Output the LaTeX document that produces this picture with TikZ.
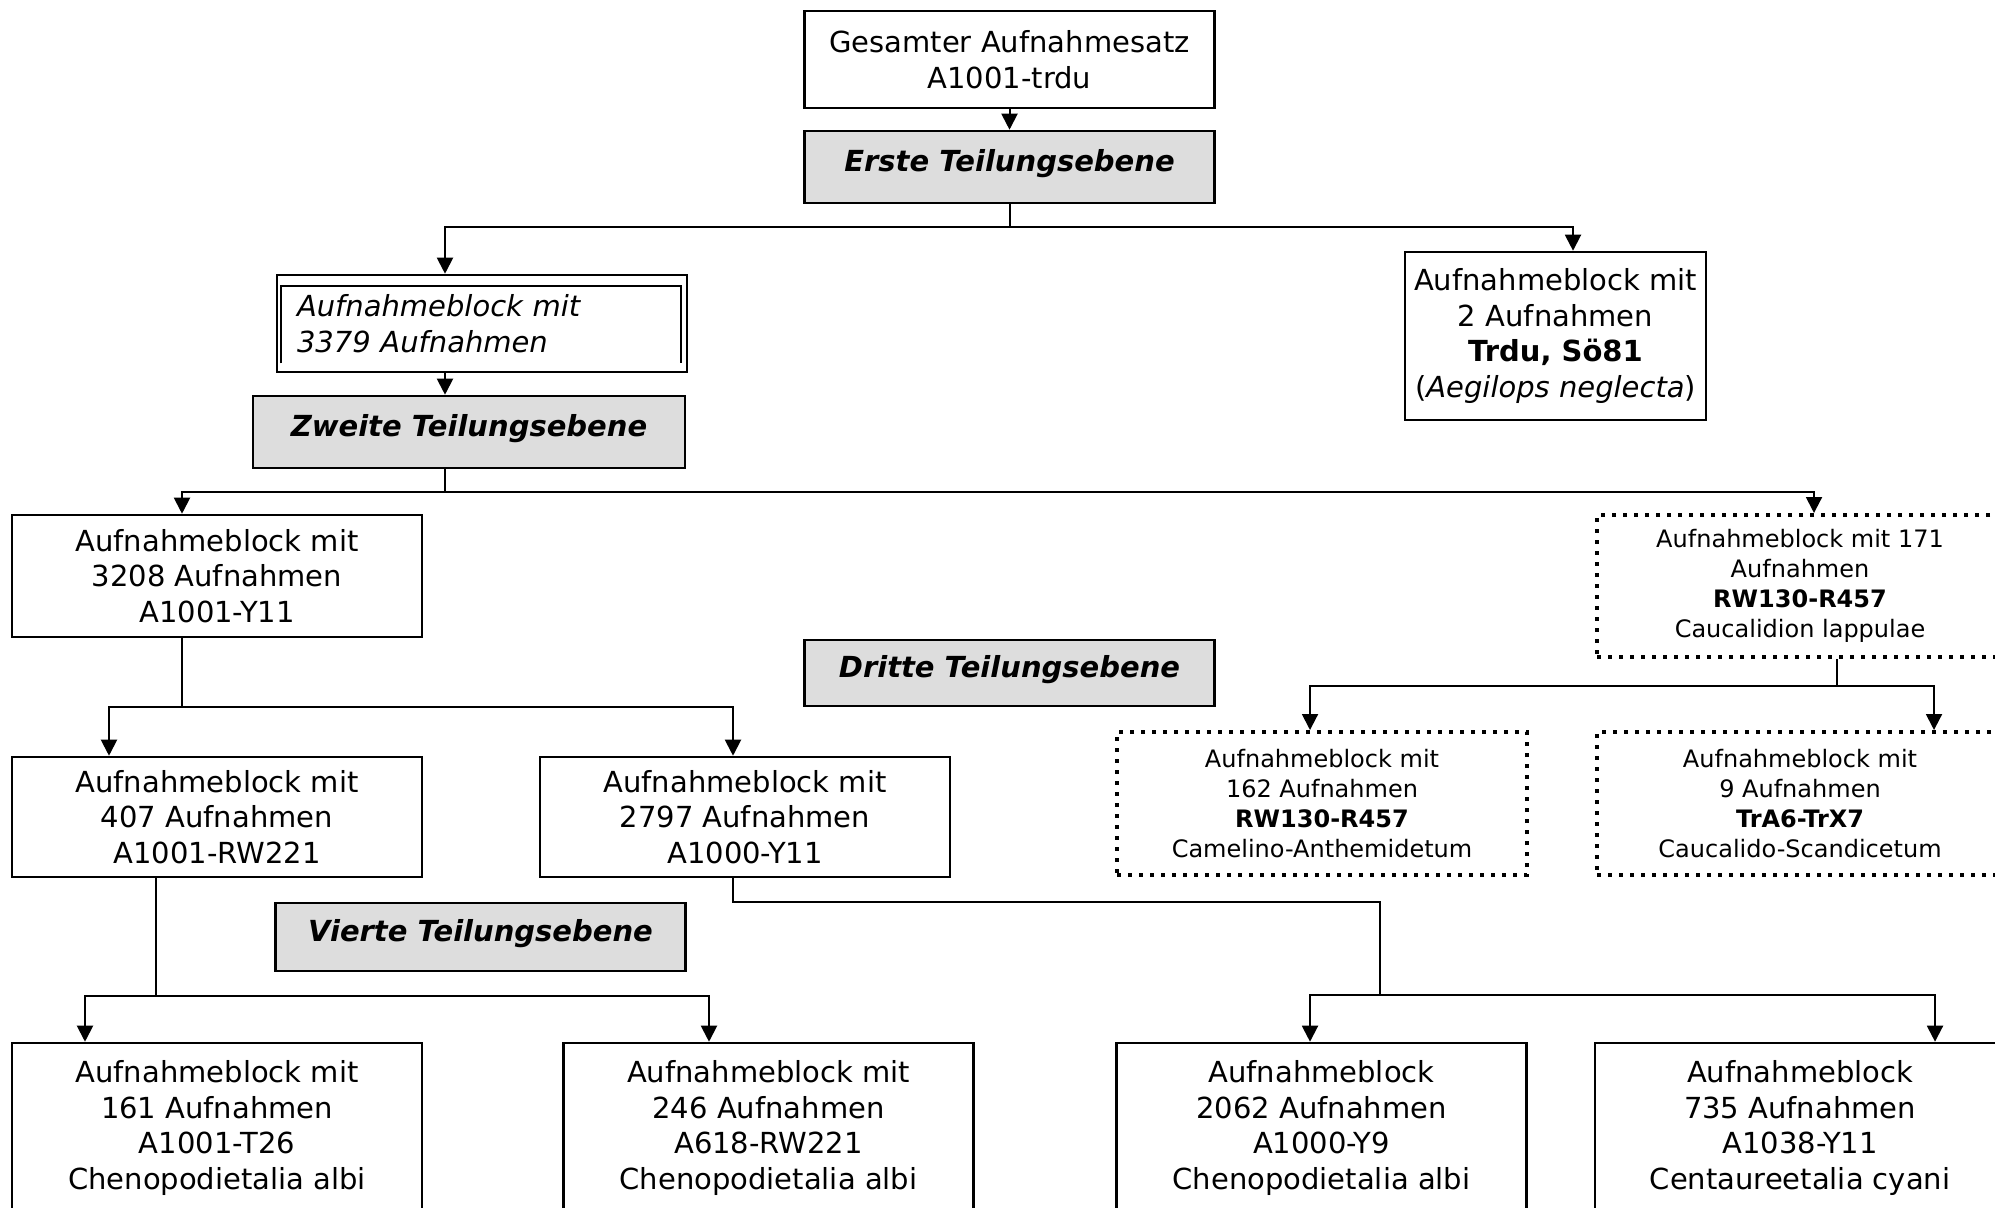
\documentclass[tikz,border=0pt]{standalone}
\usepackage{fontspec}
\setmainfont{DejaVu Sans}
\usetikzlibrary{arrows.meta}
\definecolor{ebenegrau}{RGB}{221,221,221}

\begin{document}
\begin{tikzpicture}[x=0.5pt,y=-0.5pt,line width=1pt,
	block/.style={draw, line width=1.3pt, align=center, inner sep=0pt, minimum width=205pt, font=\fontsize{14.5}{17.8}\selectfont},
	ebene/.style={block, fill=ebenegrau, text depth=6.5pt, font=\fontsize{14.5}{17.8}\selectfont\bfseries\itshape},
	punkt/.style={block, line width=2pt, dash pattern=on 2pt off 3.5pt, font=\fontsize{12}{15}\selectfont},
	pfeil/.style={-{Triangle[width=8pt,length=8pt]}, line width=1pt}]
	\useasboundingbox (0,0) rectangle (1995,1207);
	\clip (0,0) rectangle (1995,1207);

	% Teilungsebenen
	\draw (1009.5,59.5) node [block, minimum height=48.5pt] (gesamt) {Gesamter Aufnahmesatz\\A1001-trdu};
	\draw (1009.5,167) node [ebene, minimum height=36pt] (erste) {Erste Teilungsebene};
	\draw (469,432) node [ebene, minimum width=216pt, minimum height=36pt] (zweite) {Zweite Teilungsebene};
	\draw (1009.5,673) node [ebene, minimum height=33pt] (dritte) {Dritte Teilungsebene};
	\draw (480.5,937) node [ebene, minimum height=34pt] (vierte) {Vierte Teilungsebene};

	% Aufnahmebloecke
	\draw (482,323.5) node [block, minimum height=48.5pt, inner xsep=10pt, text width=185pt, align=left, font=\fontsize{14.5}{17.8}\selectfont\itshape] (b3379) {Aufnahmeblock mit\\3379 Aufnahmen};
	\draw ([xshift=2.5pt,yshift=5pt]b3379.south west) |- ([xshift=-3.5pt,yshift=-6pt]b3379.north east) -- ([xshift=-3.5pt,yshift=5pt]b3379.south east);
	\draw (1555.5,336) node [block, minimum width=150.5pt, minimum height=84pt] (b2) {Aufnahmeblock mit\\2 Aufnahmen\\\textbf{Trdu, Sö81}\\(\textit{Aegilops neglecta})};
	\draw (217,576) node [block, minimum height=61pt] (b3208) {Aufnahmeblock mit\\3208 Aufnahmen\\A1001-Y11};
	\draw (1800,586) node [punkt, minimum width=203pt, minimum height=71pt] (b171) {Aufnahmeblock mit 171\\Aufnahmen\\\textbf{RW130-R457}\\Caucalidion lappulae};
	\draw (217,817) node [block, minimum height=60pt] (b407) {Aufnahmeblock mit\\407 Aufnahmen\\A1001-RW221};
	\draw (745,817) node [block, minimum height=60pt] (b2797) {Aufnahmeblock mit\\2797 Aufnahmen\\A1000-Y11};
	\draw (1322,803.5) node [punkt, minimum height=71.5pt] (b162) {Aufnahmeblock mit\\162 Aufnahmen\\\textbf{RW130-R457}\\Camelino-Anthemidetum};
	\draw (1800,803.5) node [punkt, minimum width=203pt, minimum height=71.5pt] (b9) {Aufnahmeblock mit\\9 Aufnahmen\\\textbf{TrA6-TrX7}\\Caucalido-Scandicetum};
	\draw (217,1128) node [block, minimum height=85pt] (b161) {Aufnahmeblock mit\\161 Aufnahmen\\A1001-T26\\Chenopodietalia albi};
	\draw (768.5,1128) node [block, minimum height=85pt] (b246) {Aufnahmeblock mit\\246 Aufnahmen\\A618-RW221\\Chenopodietalia albi};
	\draw (1321.5,1128) node [block, minimum height=85pt] (b2062) {Aufnahmeblock\\2062 Aufnahmen\\A1000-Y9\\Chenopodietalia albi};
	\draw (1800,1128) node [block, minimum height=85pt] (b735) {Aufnahmeblock\\735 Aufnahmen\\A1038-Y11\\Centaureetalia cyani};

	% Verbindungen
	\draw[pfeil] (gesamt) -- (erste);
	\draw (erste.south) -- ++(0,23) coordinate (g1);
	\draw[pfeil] (g1) -| ([xshift=-18.5pt]b3379.north);
	\draw[pfeil] (g1) -| ([xshift=8.75pt]b2.north);
	\draw[pfeil] ([xshift=-18.5pt]b3379.south) -- ([xshift=-12pt]zweite.north);
	\draw ([xshift=-12pt]zweite.south) -- ++(0,23) coordinate (g2);
	\draw[pfeil] (g2) -| ([xshift=-17.5pt]b3208.north);
	\draw[pfeil] (g2) -| ([xshift=7pt]b171.north);
	\draw ([xshift=-17.5pt]b3208.south) -- ++(0,69) coordinate (g3);
	\draw[pfeil] (g3) -| ([xshift=-54pt]b407.north);
	\draw[pfeil] (g3) -| ([xshift=-6pt]b2797.north);
	\draw ([xshift=18.5pt]b171.south) -- ++(0,27) coordinate (g4);
	\draw[pfeil] (g4) -| ([xshift=-6pt]b162.north);
	\draw[pfeil] (g4) -| ([xshift=67pt]b9.north);
	\draw ([xshift=-30.5pt]b407.south) -- ++(0,118) coordinate (g5);
	\draw[pfeil] (g5) -| ([xshift=-66pt]b161.north);
	\draw[pfeil] (g5) -| ([xshift=-29.75pt]b246.north);
	\draw ([xshift=-6pt]b2797.south) -- ++(0,24) -| (1380,995) coordinate (g6);
	\draw[pfeil] (g6) -| ([xshift=-5.75pt]b2062.north);
	\draw[pfeil] (g6) -| ([xshift=67.5pt]b735.north);
\end{tikzpicture}
\end{document}
